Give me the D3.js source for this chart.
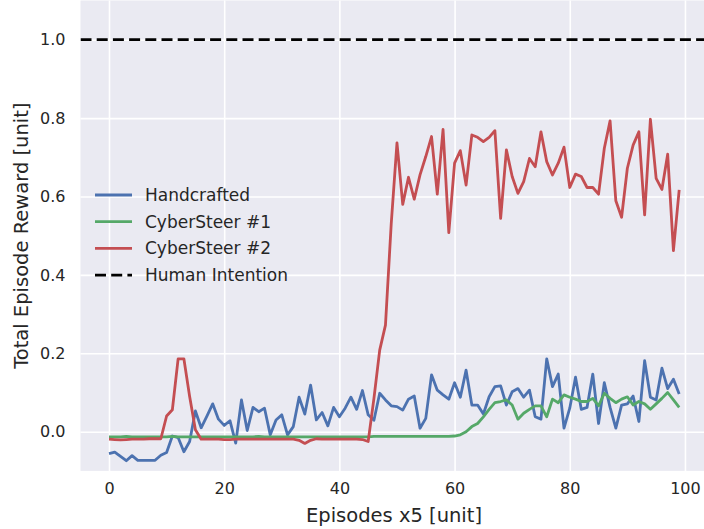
<!DOCTYPE html>
<html>
<head>
<meta charset="utf-8">
<script src="https://cdn.jsdelivr.net/npm/d3@7"></script>
<style>
    body { margin: 0; background: #ffffff; }
    svg { display: block; font-family: "DejaVu Sans", sans-serif; }
    .tick text { fill: #262626; }
</style>
</head>
<body>
<div id="chart_location"></div>
<script>
// episode index 0..99
var episodes = d3.range(0, 100);

var seriesNames = ["Handcrafted", "CyberSteer #1", "CyberSteer #2"];
var seriesColors = ["#4C72B0", "#55A868", "#C44E52"];

var handcrafted = [
    -0.056, -0.052, -0.063, -0.074, -0.061, -0.073, -0.073, -0.073, -0.073, -0.060,
    -0.053, -0.011, -0.015, -0.051, -0.025, 0.053, 0.010, 0.040, 0.071, 0.032,
    0.016, 0.028, -0.029, 0.081, 0.003, 0.062, 0.051, 0.060, -0.008, 0.030,
    0.043, -0.008, 0.013, 0.088, 0.045, 0.119, 0.030, 0.049, 0.015, 0.062,
    0.038, 0.060, 0.088, 0.057, 0.105, 0.043, 0.029, 0.098, 0.081, 0.066,
    0.064, 0.055, 0.083, 0.091, 0.009, 0.034, 0.145, 0.106, 0.094, 0.083,
    0.125, 0.088, 0.157, 0.068, 0.068, 0.045, 0.089, 0.115, 0.117, 0.068,
    0.102, 0.110, 0.088, 0.106, 0.038, 0.032, 0.186, 0.115, 0.147, 0.009,
    0.060, 0.139, 0.057, 0.062, 0.147, 0.021, 0.125, 0.062, 0.009, 0.068,
    0.071, 0.091, 0.026, 0.181, 0.088, 0.081, 0.162, 0.110, 0.134, 0.096
];

var cyberSteer1 = [
    -0.013, -0.013, -0.013, -0.012, -0.013, -0.013, -0.013, -0.013, -0.013, -0.013,
    -0.013, -0.012, -0.013, -0.013, -0.013, -0.013, -0.013, -0.013, -0.013, -0.013,
    -0.013, -0.013, -0.013, -0.013, -0.013, -0.013, -0.012, -0.013, -0.013, -0.013,
    -0.013, -0.013, -0.013, -0.013, -0.013, -0.013, -0.013, -0.013, -0.013, -0.013,
    -0.013, -0.013, -0.013, -0.013, -0.013, -0.013, -0.012, -0.012, -0.012, -0.012,
    -0.012, -0.012, -0.012, -0.012, -0.012, -0.012, -0.012, -0.012, -0.012, -0.012,
    -0.011, -0.008, 0.000, 0.013, 0.021, 0.038, 0.057, 0.074, 0.077, 0.081,
    0.068, 0.032, 0.047, 0.057, 0.066, 0.066, 0.038, 0.083, 0.074, 0.094,
    0.088, 0.083, 0.077, 0.077, 0.085, 0.066, 0.098, 0.085, 0.074, 0.083,
    0.089, 0.068, 0.077, 0.071, 0.057, 0.071, 0.085, 0.100, 0.081, 0.062
];

var cyberSteer2 = [
    -0.019, -0.020, -0.021, -0.020, -0.019, -0.019, -0.019, -0.018, -0.018, -0.018,
    0.040, 0.056, 0.186, 0.186, 0.090, 0.005, -0.019, -0.019, -0.019, -0.019,
    -0.020, -0.020, -0.019, -0.019, -0.019, -0.019, -0.019, -0.019, -0.019, -0.019,
    -0.019, -0.019, -0.019, -0.022, -0.030, -0.022, -0.018, -0.019, -0.019, -0.019,
    -0.019, -0.019, -0.019, -0.019, -0.020, -0.025, 0.085, 0.208, 0.272, 0.530,
    0.737, 0.580, 0.649, 0.593, 0.655, 0.702, 0.753, 0.606, 0.771, 0.508,
    0.685, 0.717, 0.629, 0.757, 0.751, 0.740, 0.751, 0.768, 0.544, 0.719,
    0.651, 0.608, 0.638, 0.697, 0.676, 0.765, 0.689, 0.655, 0.685, 0.726,
    0.623, 0.657, 0.651, 0.623, 0.623, 0.606, 0.723, 0.793, 0.589, 0.547,
    0.672, 0.731, 0.765, 0.553, 0.797, 0.646, 0.618, 0.708, 0.462, 0.617
];

var humanIntention = 1.0;

var xTicks = [0, 20, 40, 60, 80, 100];
var yTicks = [0.0, 0.2, 0.4, 0.6, 0.8, 1.0];

var xLabel = "Episodes x5 [unit]";
var yLabel = "Total Episode Reward [unit]";

function drawChart(selector) {
    var svg = d3.select(selector).append("svg")
        .attr("width", 704)
        .attr("height", 529);

    var margin = { top: 0.5, right: -3.7, bottom: 58.1, left: 80.5 },
        width = +svg.attr("width") - margin.left - margin.right,
        height = +svg.attr("height") - margin.top - margin.bottom;

    var g = svg.append("g").attr("transform", "translate(" + margin.left + "," + margin.top + ")");

    var x = d3.scaleLinear().domain([-4.95, 103.95]).range([0, width]);
    var y = d3.scaleLinear().domain([-0.1, 1.1]).range([height, 0]);

    g.append("rect")
        .attr("width", width)
        .attr("height", height)
        .attr("fill", "#EAEAF2");

    // grid
    g.append("g")
        .attr("class", "grid")
        .call(d3.axisBottom(x).tickValues(xTicks).tickSize(height).tickFormat(""))
        .call(function(s) { s.select(".domain").remove(); })
        .selectAll("line").attr("stroke", "#ffffff").attr("stroke-width", 1.6);

    g.append("g")
        .attr("class", "grid")
        .call(d3.axisLeft(y).tickValues(yTicks).tickSize(-width).tickFormat(""))
        .call(function(s) { s.select(".domain").remove(); })
        .selectAll("line").attr("stroke", "#ffffff").attr("stroke-width", 1.6);

    // tick labels
    g.append("g")
        .attr("transform", "translate(0," + height + ")")
        .call(d3.axisBottom(x).tickValues(xTicks).tickSize(0).tickPadding(12).tickFormat(d3.format("d")))
        .call(function(s) { s.select(".domain").remove(); })
        .selectAll("text").attr("font-size", 16).attr("font-family", "DejaVu Sans");

    g.append("g")
        .call(d3.axisLeft(y).tickValues(yTicks).tickSize(0).tickPadding(15).tickFormat(d3.format(".1f")))
        .call(function(s) { s.select(".domain").remove(); })
        .selectAll("text").attr("font-size", 16).attr("font-family", "DejaVu Sans");

    svg.append("text")
        .attr("x", margin.left + 313.5)
        .attr("y", 522)
        .attr("text-anchor", "middle")
        .attr("font-size", 19.5)
        .attr("fill", "#262626")
        .text(xLabel);

    svg.append("text")
        .attr("transform", "translate(28," + (margin.top + height / 2) + ") rotate(-90)")
        .attr("text-anchor", "middle")
        .attr("font-size", 19.5)
        .attr("fill", "#262626")
        .text(yLabel);

    g.append("clipPath").attr("id", "plotclip")
        .append("rect").attr("width", width).attr("height", height);

    var plot = g.append("g").attr("clip-path", "url(#plotclip)");

    var line = d3.line()
        .x(function(d, i) { return x(episodes[i]); })
        .y(function(d) { return y(d); });

    var data = [handcrafted, cyberSteer1, cyberSteer2];

    plot.selectAll("path.series")
        .data(data)
        .enter().append("path")
        .attr("class", "series")
        .attr("d", line)
        .attr("fill", "none")
        .attr("stroke", function(d, i) { return seriesColors[i]; })
        .attr("stroke-width", 2.8)
        .attr("stroke-linejoin", "round");

    plot.append("line")
        .attr("x1", 0)
        .attr("x2", width)
        .attr("y1", y(humanIntention))
        .attr("y2", y(humanIntention))
        .attr("stroke", "#000000")
        .attr("stroke-width", 2.8)
        .attr("stroke-dasharray", "11,5.2");

    // legend
    var legendItems = seriesNames.map(function(n, i) { return { name: n, color: seriesColors[i], dash: null }; });
    legendItems.push({ name: "Human Intention", color: "#000000", dash: "11,5.2" });

    var legend = svg.append("g").attr("transform", "translate(95,195)");
    var rows = legend.selectAll("g")
        .data(legendItems)
        .enter().append("g")
        .attr("transform", function(d, i) { return "translate(0," + (i * 26.7) + ")"; });

    rows.append("line")
        .attr("x1", 0).attr("x2", 37)
        .attr("stroke", function(d) { return d.color; })
        .attr("stroke-width", 2.8)
        .attr("stroke-dasharray", function(d) { return d.dash; });

    rows.append("text")
        .attr("x", 50)
        .attr("dy", "0.35em")
        .attr("font-size", 17)
        .attr("fill", "#262626")
        .text(function(d) { return d.name; });
}

drawChart("#chart_location");
</script>
</body>
</html>
